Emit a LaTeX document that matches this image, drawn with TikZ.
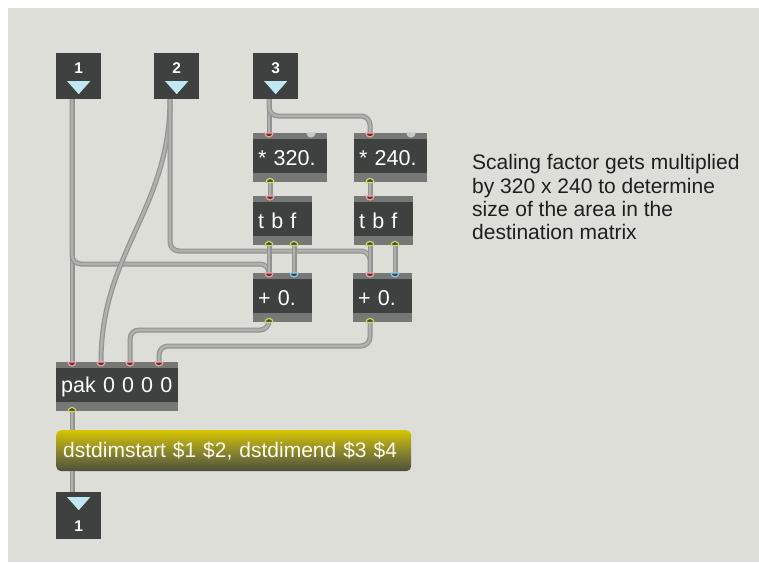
\documentclass[tikz,border=0pt]{standalone}
\usepackage{fontspec}
\setmainfont{Liberation Sans}

\definecolor{patchbg}{RGB}{221,222,216}
\definecolor{objbody}{RGB}{62,65,64}
\definecolor{objband}{RGB}{118,120,118}
\definecolor{cordgray}{RGB}{176,177,173}
\definecolor{cordedge}{RGB}{146,147,144}
\definecolor{inletpink}{RGB}{232,165,165}
\definecolor{inletred}{RGB}{112,42,42}
\definecolor{outletgreen}{RGB}{205,214,105}
\definecolor{outletdark}{RGB}{72,74,50}
\definecolor{coldblue}{RGB}{140,200,226}
\definecolor{colddark}{RGB}{50,70,90}
\definecolor{idlegray}{RGB}{200,201,198}
\definecolor{arrowcyan}{RGB}{192,232,242}
\definecolor{msgtop}{RGB}{214,196,0}
\definecolor{msgmid}{RGB}{140,136,45}
\definecolor{msgbot}{RGB}{78,79,62}

\tikzset{
  maxobj/.style={rectangle, anchor=north west, fill=objbody, text=white,
    font=\fontsize{21.5}{24}\selectfont, align=left, minimum height=49pt,
    inner xsep=5pt, inner ysep=0pt,
    path picture={
      \fill[objband] (path picture bounding box.north west) rectangle ([yshift=-6pt]path picture bounding box.north east);
      \fill[objband] (path picture bounding box.south west) rectangle ([yshift=9pt]path picture bounding box.south east);
    }},
  inletbox/.style={rectangle, anchor=north west, fill=objbody, minimum width=45pt,
    minimum height=46pt, inner sep=0pt,
    path picture={
      \fill[arrowcyan] ([xshift=-11.5pt,yshift=-28pt]path picture bounding box.north)
        -- ([xshift=11.5pt,yshift=-28pt]path picture bounding box.north)
        -- ([yshift=-41pt]path picture bounding box.north) -- cycle;
    }},
  outletbox/.style={rectangle, anchor=north west, fill=objbody, minimum width=45pt,
    minimum height=47pt, inner sep=0pt,
    path picture={
      \fill[arrowcyan] ([xshift=-11.5pt,yshift=-5pt]path picture bounding box.north)
        -- ([xshift=11.5pt,yshift=-5pt]path picture bounding box.north)
        -- ([yshift=-18pt]path picture bounding box.north) -- cycle;
    }},
  portnum/.style={text=white, font=\fontsize{15.5}{15.5}\bfseries, inner sep=0pt},
  patchcord/.style={draw=cordedge, line width=5pt, rounded corners=9pt,
    postaction={draw=cordgray, line width=2.6pt}},
  hotin/.style={fill=inletred, draw=inletpink, line width=1.2pt},
  coldin/.style={fill=colddark, draw=coldblue, line width=1.2pt},
  idlein/.style={fill=idlegray, draw=idlegray, line width=1.2pt},
  outport/.style={fill=outletdark, draw=outletgreen, line width=1.2pt}
}

\begin{document}
\begin{tikzpicture}[x=1pt,y=-1pt]

  \useasboundingbox (0,0) rectangle (759,562);
  \fill[patchbg] (8,8) rectangle (759,562);

  % inlets and outlet of the patcher
  \node[inletbox] (in1) at (56,53) {};
  \node[inletbox] (in2) at (154,53) {};
  \node[inletbox] (in3) at (253,53) {};
  \node[outletbox] (out1) at (56,492) {};

  \node[portnum] (in1-num) at ([yshift=-15pt]in1.north) {1};
  \node[portnum] (in2-num) at ([yshift=-15pt]in2.north) {2};
  \node[portnum] (in3-num) at ([yshift=-15pt]in3.north) {3};
  \node[portnum] (out1-num) at ([yshift=-34pt]out1.north) {1};

  % objects
  \begin{scope}[every node/.style={maxobj}]
    \node[text width=64pt] (mul320) at (253,133) {* 320.};
    \node[text width=63pt] (mul240) at (354,133) {* 240.};
    \node[text width=49pt] (tbfL)   at (253,196) {t b f};
    \node[text width=49pt] (tbfR)   at (354,196) {t b f};
    \node[text width=49pt] (addL)   at (253,273) {+ 0.};
    \node[text width=49pt] (addR)   at (353,273) {+ 0.};
    \node[text width=112pt] (pak)   at (56,362)  {pak 0 0 0 0};
  \end{scope}

  \node[anchor=north west, rounded corners=5pt, minimum width=355pt, minimum height=41pt,
    top color=msgtop, bottom color=msgbot, middle color=msgmid,
    text=white!94!yellow, font=\fontsize{21}{24}\selectfont, align=left,
    text width=341pt, inner xsep=7pt, inner ysep=0pt] (msg) at (56,430)
    {dstdimstart \$1 \$2, dstdimend \$3 \$4};

  \node[anchor=north west, inner sep=0pt, align=left, text=black!88,
    font=\fontsize{21}{23.3}\selectfont] (note) at (472,154.5)
    {Scaling factor gets multiplied\\by 320 x 240 to determine\\size of the area in the\\destination matrix};

  % ports
  \coordinate (in1-out) at ([xshift=16pt]in1.south west);
  \coordinate (in2-out) at ([xshift=16pt]in2.south west);
  \coordinate (in3-out) at ([xshift=16pt]in3.south west);
  \coordinate (out1-in) at ([xshift=16pt]out1.north west);

  \coordinate (mul320-in1) at ([xshift=16pt]mul320.north west);
  \coordinate (mul320-in2) at ([xshift=58pt]mul320.north west);
  \coordinate (mul320-out) at ([xshift=17pt]mul320.south west);
  \coordinate (mul240-in1) at ([xshift=16pt]mul240.north west);
  \coordinate (mul240-in2) at ([xshift=57pt]mul240.north west);
  \coordinate (mul240-out) at ([xshift=16pt]mul240.south west);

  \coordinate (tbfL-in1)  at ([xshift=17pt]tbfL.north west);
  \coordinate (tbfL-out1) at ([xshift=16pt]tbfL.south west);
  \coordinate (tbfL-out2) at ([xshift=41pt]tbfL.south west);
  \coordinate (tbfR-in1)  at ([xshift=16pt]tbfR.north west);
  \coordinate (tbfR-out1) at ([xshift=16pt]tbfR.south west);
  \coordinate (tbfR-out2) at ([xshift=41pt]tbfR.south west);

  \coordinate (addL-in1) at ([xshift=16pt]addL.north west);
  \coordinate (addL-in2) at ([xshift=41pt]addL.north west);
  \coordinate (addL-out) at ([xshift=16pt]addL.south west);
  \coordinate (addR-in1) at ([xshift=17pt]addR.north west);
  \coordinate (addR-in2) at ([xshift=42pt]addR.north west);
  \coordinate (addR-out) at ([xshift=17pt]addR.south west);

  \coordinate (pak-in1) at ([xshift=16pt]pak.north west);
  \coordinate (pak-in2) at ([xshift=45pt]pak.north west);
  \coordinate (pak-in3) at ([xshift=74pt]pak.north west);
  \coordinate (pak-in4) at ([xshift=103pt]pak.north west);
  \coordinate (pak-out) at ([xshift=16pt]pak.south west);

  \coordinate (msg-in)  at ([xshift=16pt]msg.north west);
  \coordinate (msg-out) at ([xshift=16pt]msg.south west);

  % patch cords
  \draw[patchcord] (in1-out) -- (pak-in1);
  \draw[patchcord] (in1-out) |- ([yshift=9pt]addL-in1) -- (addL-in1);
  \draw[patchcord] (in2-out) .. controls ([yshift=-110pt]in2-out) and ([yshift=110pt]pak-in2) .. (pak-in2);
  \draw[patchcord] (in2-out) |- ([yshift=22pt]addR-in1) -- (addR-in1);
  \draw[patchcord] (in3-out) -- (mul320-in1);
  \draw[patchcord] (in3-out) |- ([yshift=17pt]mul240-in1) -- (mul240-in1);
  \draw[patchcord] (mul320-out) -- (tbfL-in1);
  \draw[patchcord] (mul240-out) -- (tbfR-in1);
  \draw[patchcord] (tbfL-out1) -- (addL-in1);
  \draw[patchcord] (tbfL-out2) -- (addL-in2);
  \draw[patchcord] (tbfR-out1) -- (addR-in1);
  \draw[patchcord] (tbfR-out2) -- (addR-in2);
  \draw[patchcord] (addL-out) |- ([yshift=32pt]pak-in3) -- (pak-in3);
  \draw[patchcord] (addR-out) |- ([yshift=16pt]pak-in4) -- (pak-in4);
  \draw[patchcord] (pak-out) -- (msg-in);
  \draw[patchcord] (msg-out) -- (out1-in);

  % port marks
  \foreach \p in {mul320-in1,mul240-in1,tbfL-in1,tbfR-in1,addL-in1,addR-in1,pak-in1,pak-in2,pak-in3,pak-in4}
    \filldraw[hotin] ([xshift=-4pt]\p) arc[start angle=180, end angle=360, radius=4pt] -- cycle;
  \foreach \p in {addL-in2,addR-in2}
    \filldraw[coldin] ([xshift=-4pt]\p) arc[start angle=180, end angle=360, radius=4pt] -- cycle;
  \foreach \p in {mul320-in2,mul240-in2}
    \filldraw[idlein] ([xshift=-4pt]\p) arc[start angle=180, end angle=360, radius=4pt] -- cycle;
  \foreach \p in {mul320-out,mul240-out,tbfL-out1,tbfL-out2,tbfR-out1,tbfR-out2,addL-out,addR-out,pak-out}
    \filldraw[outport] ([xshift=-4pt]\p) arc[start angle=180, end angle=0, radius=4pt] -- cycle;

\end{tikzpicture}
\end{document}
